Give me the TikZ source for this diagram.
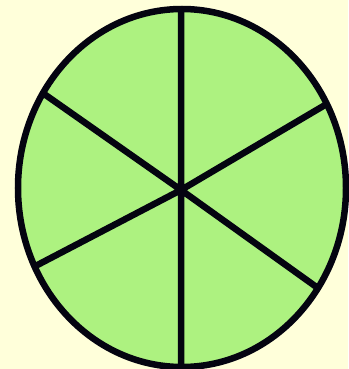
\documentclass[tikz,border=0pt]{standalone}
\usepackage{tikz}
\definecolor{paper}{RGB}{255,255,218}
\definecolor{leaf}{RGB}{173,242,128}
\definecolor{ink}{RGB}{4,4,16}

\begin{document}
\begin{tikzpicture}[x=1pt,y=1pt]
                \tikzset{rim/.style={draw=ink,line width=6.5pt,fill=leaf},
                         spoke/.style={draw=ink,line width=6.5pt}}
                \fill[paper] (-182,-181) rectangle (166,188);
                \useasboundingbox (-182,-181) rectangle (166,188);
                \draw[rim] (0,0) ellipse [x radius=164, y radius=179];
                \coordinate (hub) at (-1,-2);
                \coordinate (top) at (-1,179);
                \coordinate (bot) at (-1,-179);
                \coordinate (ul) at (148:164 and 179);
                \coordinate (ur) at (28:164 and 179);
                \coordinate (ll) at (206:164 and 179);
                \coordinate (lr) at (326:164 and 179);
                \draw[spoke] (top) -- (hub) -- (bot) (ul) -- (hub) -- (lr) (ll) -- (hub) -- (ur);
            \end{tikzpicture}
\end{document}
